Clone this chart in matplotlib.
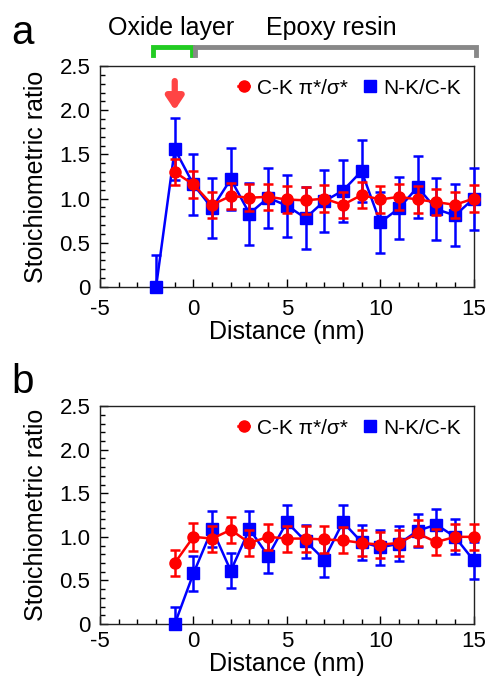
import numpy as np
import matplotlib
matplotlib.use("Agg")
import matplotlib.pyplot as plt
from matplotlib.ticker import MultipleLocator, FuncFormatter

plt.rcParams['font.family'] = ['Liberation Sans', 'DejaVu Sans']
plt.rcParams['axes.unicode_minus'] = False

RED = "#ff0000"
BLUE = "#0000ff"

# panel a
xa_red = [-1, 0, 1, 2, 3, 4, 5, 6, 7, 8, 9, 10, 11, 12, 13, 14, 15]
ya_red = [1.30, 1.16, 0.93, 1.03, 1.01, 1.02, 0.99, 0.98, 1.00, 0.93, 1.04, 0.99, 1.02, 0.99, 0.96, 0.93, 1.00]
ea_red = [0.15, 0.15, 0.15, 0.15, 0.15, 0.15, 0.15, 0.15, 0.15, 0.15, 0.15, 0.15, 0.15, 0.15, 0.15, 0.15, 0.15]

xa_blue = [-2, -1, 0, 1, 2, 3, 4, 5, 6, 7, 8, 9, 10, 11, 12, 13, 14, 15]
ya_blue = [0.0, 1.56, 1.16, 0.89, 1.22, 0.83, 1.01, 0.92, 0.78, 0.97, 1.09, 1.31, 0.73, 0.89, 1.13, 0.88, 0.81, 1.00]
ea_blue = [0.36, 0.35, 0.35, 0.34, 0.35, 0.35, 0.34, 0.35, 0.35, 0.35, 0.35, 0.35, 0.34, 0.35, 0.35, 0.35, 0.35, 0.35]

# panel b
xb_red = [-1, 0, 1, 2, 3, 4, 5, 6, 7, 8, 9, 10, 11, 12, 13, 14, 15]
yb_red = [0.70, 1.00, 0.98, 1.08, 0.93, 1.00, 0.98, 0.98, 0.97, 0.96, 0.93, 0.91, 0.93, 1.04, 0.94, 1.00, 1.00]
eb_red = [0.15, 0.16, 0.15, 0.15, 0.15, 0.15, 0.15, 0.15, 0.15, 0.15, 0.15, 0.15, 0.15, 0.15, 0.15, 0.15, 0.15]

xb_blue = [-1, 0, 1, 2, 3, 4, 5, 6, 7, 8, 9, 10, 11, 12, 13, 14, 15]
yb_blue = [0.0, 0.58, 1.09, 0.61, 1.09, 0.78, 1.17, 0.95, 0.74, 1.17, 0.94, 0.88, 0.92, 1.07, 1.14, 1.00, 0.73]
eb_blue = [0.20, 0.20, 0.21, 0.20, 0.21, 0.20, 0.20, 0.19, 0.20, 0.20, 0.20, 0.20, 0.20, 0.19, 0.18, 0.20, 0.21]

fig = plt.figure(figsize=(4.92, 6.82), dpi=100)
ax_a = fig.add_axes([0.2033, 0.5792, 0.7594, 0.324])
ax_b = fig.add_axes([0.2033, 0.085, 0.7594, 0.3196])


def style(ax, xpad):
    ax.set_xlim(-5, 15)
    ax.set_ylim(0, 2.5)
    ax.xaxis.set_major_locator(MultipleLocator(5))
    ax.xaxis.set_minor_locator(MultipleLocator(1))
    ax.yaxis.set_major_locator(MultipleLocator(0.5))
    ax.yaxis.set_minor_locator(MultipleLocator(0.1))
    ax.yaxis.set_major_formatter(FuncFormatter(lambda v, p: "0" if abs(v) < 1e-9 else "%.1f" % v))
    ax.tick_params(which='both', direction='in', top=False, right=False, labelsize=16)
    ax.tick_params(axis='y', pad=7)
    ax.tick_params(axis='x', pad=xpad)
    ax.tick_params(which='major', length=6, width=1)
    ax.tick_params(which='minor', length=3.5, width=1)
    for s in ax.spines.values():
        s.set_linewidth(1)
        s.set_color("#222222")
    ax.set_xlabel("Distance (nm)", fontsize=18, labelpad=0)
    ax.set_ylabel("Stoichiometric ratio", fontsize=18, labelpad=8)


def draw(ax, xr, yr, er, xb, yb, eb):
    # lower error bars stop at the axis floor
    eb_lo = np.minimum(eb, yb)
    er_lo = np.minimum(er, yr)
    ax.errorbar(xb, yb, yerr=[eb_lo, eb], color=BLUE, marker='s', markersize=8, lw=1.8,
                elinewidth=1.8, capsize=3.8, capthick=1.8, label="N-K/C-K", clip_on=False, zorder=3)
    ax.errorbar(xr, yr, yerr=[er_lo, er], color=RED, marker='o', markersize=8, lw=1.8,
                elinewidth=1.8, capsize=3.8, capthick=1.8, label="C-K π*/σ*", clip_on=False, zorder=4)
    h, l = ax.get_legend_handles_labels()
    h = [hh[0] for hh in h]
    ax.legend([h[1], h[0]], [l[1], l[0]], loc='upper right', ncol=2, frameon=False,
              fontsize=15, handlelength=0.5, handletextpad=0.4, columnspacing=0.8,
              borderaxespad=0.1, borderpad=0.5, markerscale=1.0)


style(ax_a, 9)
style(ax_b, 5)
draw(ax_a, xa_red, ya_red, ea_red, xa_blue, ya_blue, ea_blue)
draw(ax_b, xb_red, yb_red, eb_red, xb_blue, yb_blue, eb_blue)

# arrow in panel a
ax_a.annotate("", xy=(-1.0, 2.0), xytext=(-1.0, 2.33),
              arrowprops=dict(arrowstyle="-|>,head_width=0.5,head_length=0.75", color="#ff4444", lw=4.5,
                              shrinkA=0, shrinkB=0))

# brackets above panel a
ax_a.plot([-2.15, -2.15, -0.1, -0.1], [2.62, 2.72, 2.72, 2.62], color="#22cc22", lw=3.5,
          clip_on=False, solid_joinstyle='miter')
ax_a.plot([0.1, 0.1, 15.15, 15.15], [2.62, 2.72, 2.72, 2.62], color="#888888", lw=3.5,
          clip_on=False, solid_joinstyle='miter')
ax_a.text(-1.2, 2.93, "Oxide layer", ha='center', va='center', fontsize=18, clip_on=False)
ax_a.text(7.4, 2.93, "Epoxy resin", ha='center', va='center', fontsize=18, clip_on=False)

fig.text(0.045, 0.952, "a", fontsize=29, ha='center', va='center')
fig.text(0.045, 0.44, "b", fontsize=29, ha='center', va='center')

fig.savefig("out.png", dpi=100)
